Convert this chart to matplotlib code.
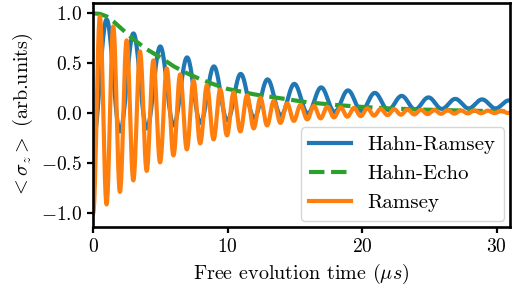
import numpy as np
import matplotlib
matplotlib.use("Agg")
import matplotlib.pyplot as plt

plt.rcParams["font.family"] = "serif"
plt.rcParams["font.serif"] = ["cmr10"]
plt.rcParams["mathtext.fontset"] = "cm"
plt.rcParams["axes.formatter.use_mathtext"] = True

# Hahn-Echo envelope (dashed green)
echo_t = [0, 0.5, 1, 1.5, 2, 3, 4, 5, 6, 7, 8, 9, 10, 12, 14, 16, 18, 20,
          22, 24, 26, 28, 31]
echo_val = [1.00, 0.995, 0.97, 0.92, 0.86, 0.74, 0.64, 0.56, 0.47, 0.40,
            0.34, 0.29, 0.245, 0.19, 0.15, 0.11, 0.085, 0.065, 0.05, 0.04,
            0.033, 0.027, 0.02]

# Ramsey (orange): trough / peak values, one per period (~1 us)
ramsey_half_period = 0.4975
ramsey_troughs = [-1.00, -0.91, -0.785, -0.67, -0.575, -0.49, -0.42, -0.36,
                  -0.30, -0.26, -0.22, -0.18, -0.15, -0.12, -0.095, -0.075,
                  -0.06, -0.05, -0.04, -0.033, -0.027, -0.022, -0.017,
                  -0.013, -0.01, -0.007, -0.004, -0.002, 0.0, 0.002, 0.003,
                  0.004]
ramsey_peaks = [0.97, 0.87, 0.73, 0.62, 0.53, 0.45, 0.39, 0.33, 0.28, 0.24,
                0.21, 0.18, 0.155, 0.125, 0.10, 0.085, 0.075, 0.067, 0.06,
                0.055, 0.05, 0.046, 0.042, 0.039, 0.036, 0.034, 0.032, 0.03,
                0.029, 0.028, 0.027, 0.026]

# Hahn-Ramsey (blue): trough / peak values, one per period (~2 us)
hr_half_period = 0.9975
hr_troughs = [-0.27, -0.18, -0.15, -0.12, -0.095, -0.07, -0.045, -0.02, 0.0,
              0.015, 0.025, 0.035, 0.04, 0.045, 0.05, 0.05]
hr_peaks = [0.94, 0.80, 0.67, 0.56, 0.47, 0.395, 0.34, 0.295, 0.26, 0.23,
            0.205, 0.175, 0.16, 0.145, 0.14, 0.13]


def wave_from_extrema(troughs, peaks, half_period, n=24):
    # alternate trough, peak, trough ... and join them with half cosines
    vals = np.ravel(np.column_stack([troughs, peaks]))
    times = np.arange(len(vals)) * half_period
    s = np.linspace(0, 1, n, endpoint=False)
    w = (1 - np.cos(np.pi * s)) / 2
    t_out, v_out = [], []
    for i in range(len(vals) - 1):
        t_out.append(times[i] + s * (times[i + 1] - times[i]))
        v_out.append(vals[i] + w * (vals[i + 1] - vals[i]))
    t_out.append([times[-1]])
    v_out.append([vals[-1]])
    return np.concatenate(t_out), np.concatenate(v_out)


hr_t, hr_v = wave_from_extrema(hr_troughs, hr_peaks, hr_half_period)
r_t, r_v = wave_from_extrema(ramsey_troughs, ramsey_peaks, ramsey_half_period)

fig = plt.figure(figsize=(5.12, 2.88), dpi=100)
ax = fig.add_axes([0.182, 0.212, 0.814, 0.778])

ax.plot(hr_t, hr_v, color="#1f77b4", lw=3, label="Hahn-Ramsey")
ax.plot(echo_t, echo_val, color="#2ca02c", lw=3, ls="--", label="Hahn-Echo")
ax.plot(r_t, r_v, color="#ff7f0e", lw=3, label="Ramsey")

ax.set_xlim(0, 31)
ax.set_ylim(-1.135, 1.105)
ax.set_xticks([0, 10, 20, 30])
ax.set_yticks([-1.0, -0.5, 0.0, 0.5, 1.0])
ax.tick_params(labelsize=14, width=1.6, length=4.5)
for sp in ax.spines.values():
    sp.set_linewidth(1.9)

ax.set_xlabel(r"Free evolution time ($\mu s$)", fontsize=14.5)
ax.set_ylabel(r"$<\sigma_z>$ (arb.units)", fontsize=14.5)

ax.legend(loc="lower right", fontsize=15, handlelength=2.0,
          borderaxespad=0.3)

fig.savefig("out.png", dpi=100)
